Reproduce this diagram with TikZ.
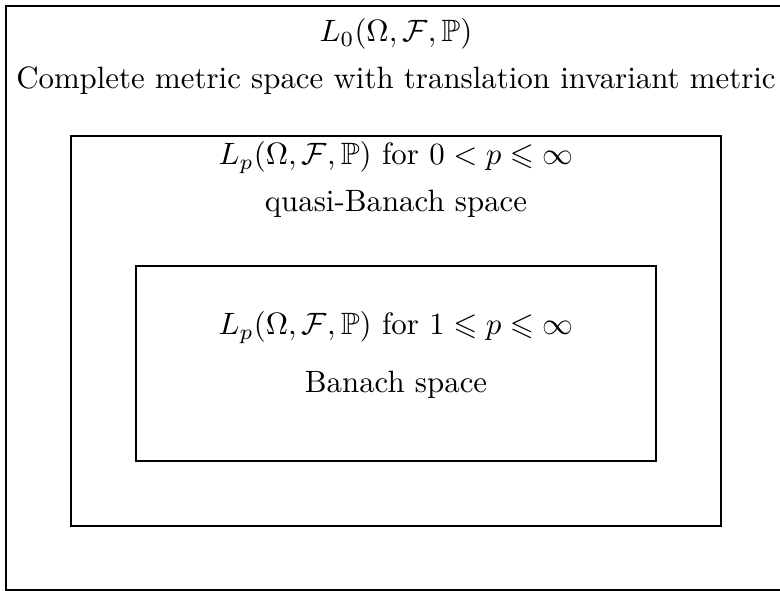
\documentclass[tikz,border=0pt]{standalone}
\usepackage{amsmath,amssymb}
\usetikzlibrary{positioning}
\tikzset{spacebox/.style={draw,line width=0.45pt},
  lbl/.style={anchor=base,inner sep=0pt}}

\begin{document}
\begin{tikzpicture}[x=0.324pt,y=0.324pt]
\useasboundingbox (0,0) rectangle (780,591);
\draw[spacebox] (6,1) rectangle (787,585);
\draw[spacebox] (71,65) rectangle (721,455);
\draw[spacebox] (136,130) rectangle (656,325);
\node[lbl] (zero) at (396,549) {$L_0(\Omega,\mathcal{F},\mathbb{P})$};
\node[lbl] (metric) at (396,502) {Complete metric space with translation invariant metric};
\node[lbl] (quasi) at (396,426) {$L_p(\Omega,\mathcal{F},\mathbb{P})$ for $0<p\leqslant\infty$};
\node[lbl] (qb) at (396,379) {quasi-Banach space};
\node[lbl] (banach) at (396,256) {$L_p(\Omega,\mathcal{F},\mathbb{P})$ for $1\leqslant p\leqslant\infty$};
\node[lbl] (bs) at (396,198) {Banach space};
\end{tikzpicture}
\end{document}
